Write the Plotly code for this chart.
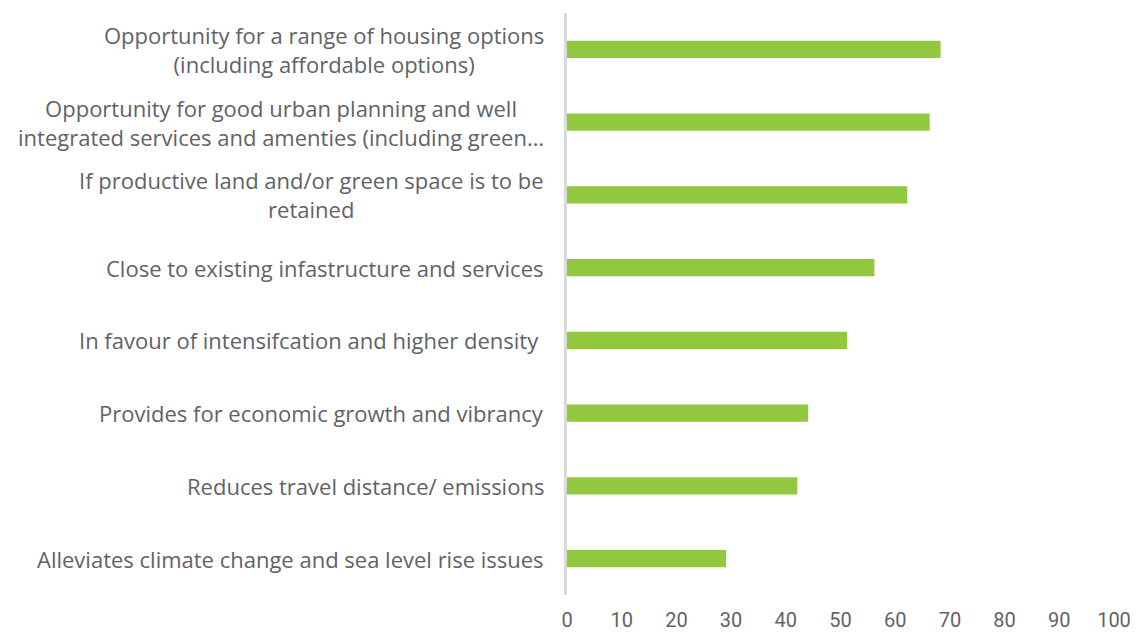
import plotly.graph_objects as go

# categories, top to bottom
categories = [
    "Opportunity for a range of housing options<br>(including affordable options)",
    "Opportunity for good urban planning and well<br>integrated services and amenties (including green…",
    "If productive land and/or green space is to be<br>retained",
    "Close to existing infastructure and services",
    "In favour of intensifcation and higher density ",
    "Provides for economic growth and vibrancy",
    "Reduces travel distance/ emissions",
    "Alleviates climate change and sea level rise issues",
]
values = [68.3, 66.3, 62.2, 56.2, 51.2, 44.1, 42.1, 29.1]
x_ticks = list(range(0, 101, 10))

GREEN = "#92C83F"
TEXT = "#5F6368"

fig = go.Figure(
    go.Bar(
        x=values,
        y=categories,
        orientation="h",
        marker=dict(color=GREEN, line=dict(width=0)),
        hoverinfo="x+y",
    )
)

# category labels as annotations so multi-line text stays centred
for cat in categories:
    fig.add_annotation(
        x=0, xref="paper", y=cat, yref="y",
        text=cat, showarrow=False,
        xanchor="right", yanchor="middle", align="center",
        xshift=-21,
        font=dict(family="Open Sans", size=22, color=TEXT),
    )

# page body has an 8px margin, so the figure is 8px smaller
fig.update_layout(
    width=1136, height=625,
    margin=dict(l=559, r=30, t=5, b=38, autoexpand=False),
    plot_bgcolor="white", paper_bgcolor="white",
    bargap=0.766,
    showlegend=False,
)
fig.update_xaxes(
    range=[0, 100], tickvals=x_ticks,
    showgrid=False, zeroline=False, showline=False,
    tickfont=dict(family="Roboto", size=20, color=TEXT),
    ticklabelstandoff=11, automargin=False,
)
fig.update_yaxes(
    categoryorder="array", categoryarray=categories[::-1],
    showticklabels=False, showgrid=False, zeroline=False,
    showline=True, linecolor="#D9D9D9", linewidth=3,
)

fig.write_html("out.html")
